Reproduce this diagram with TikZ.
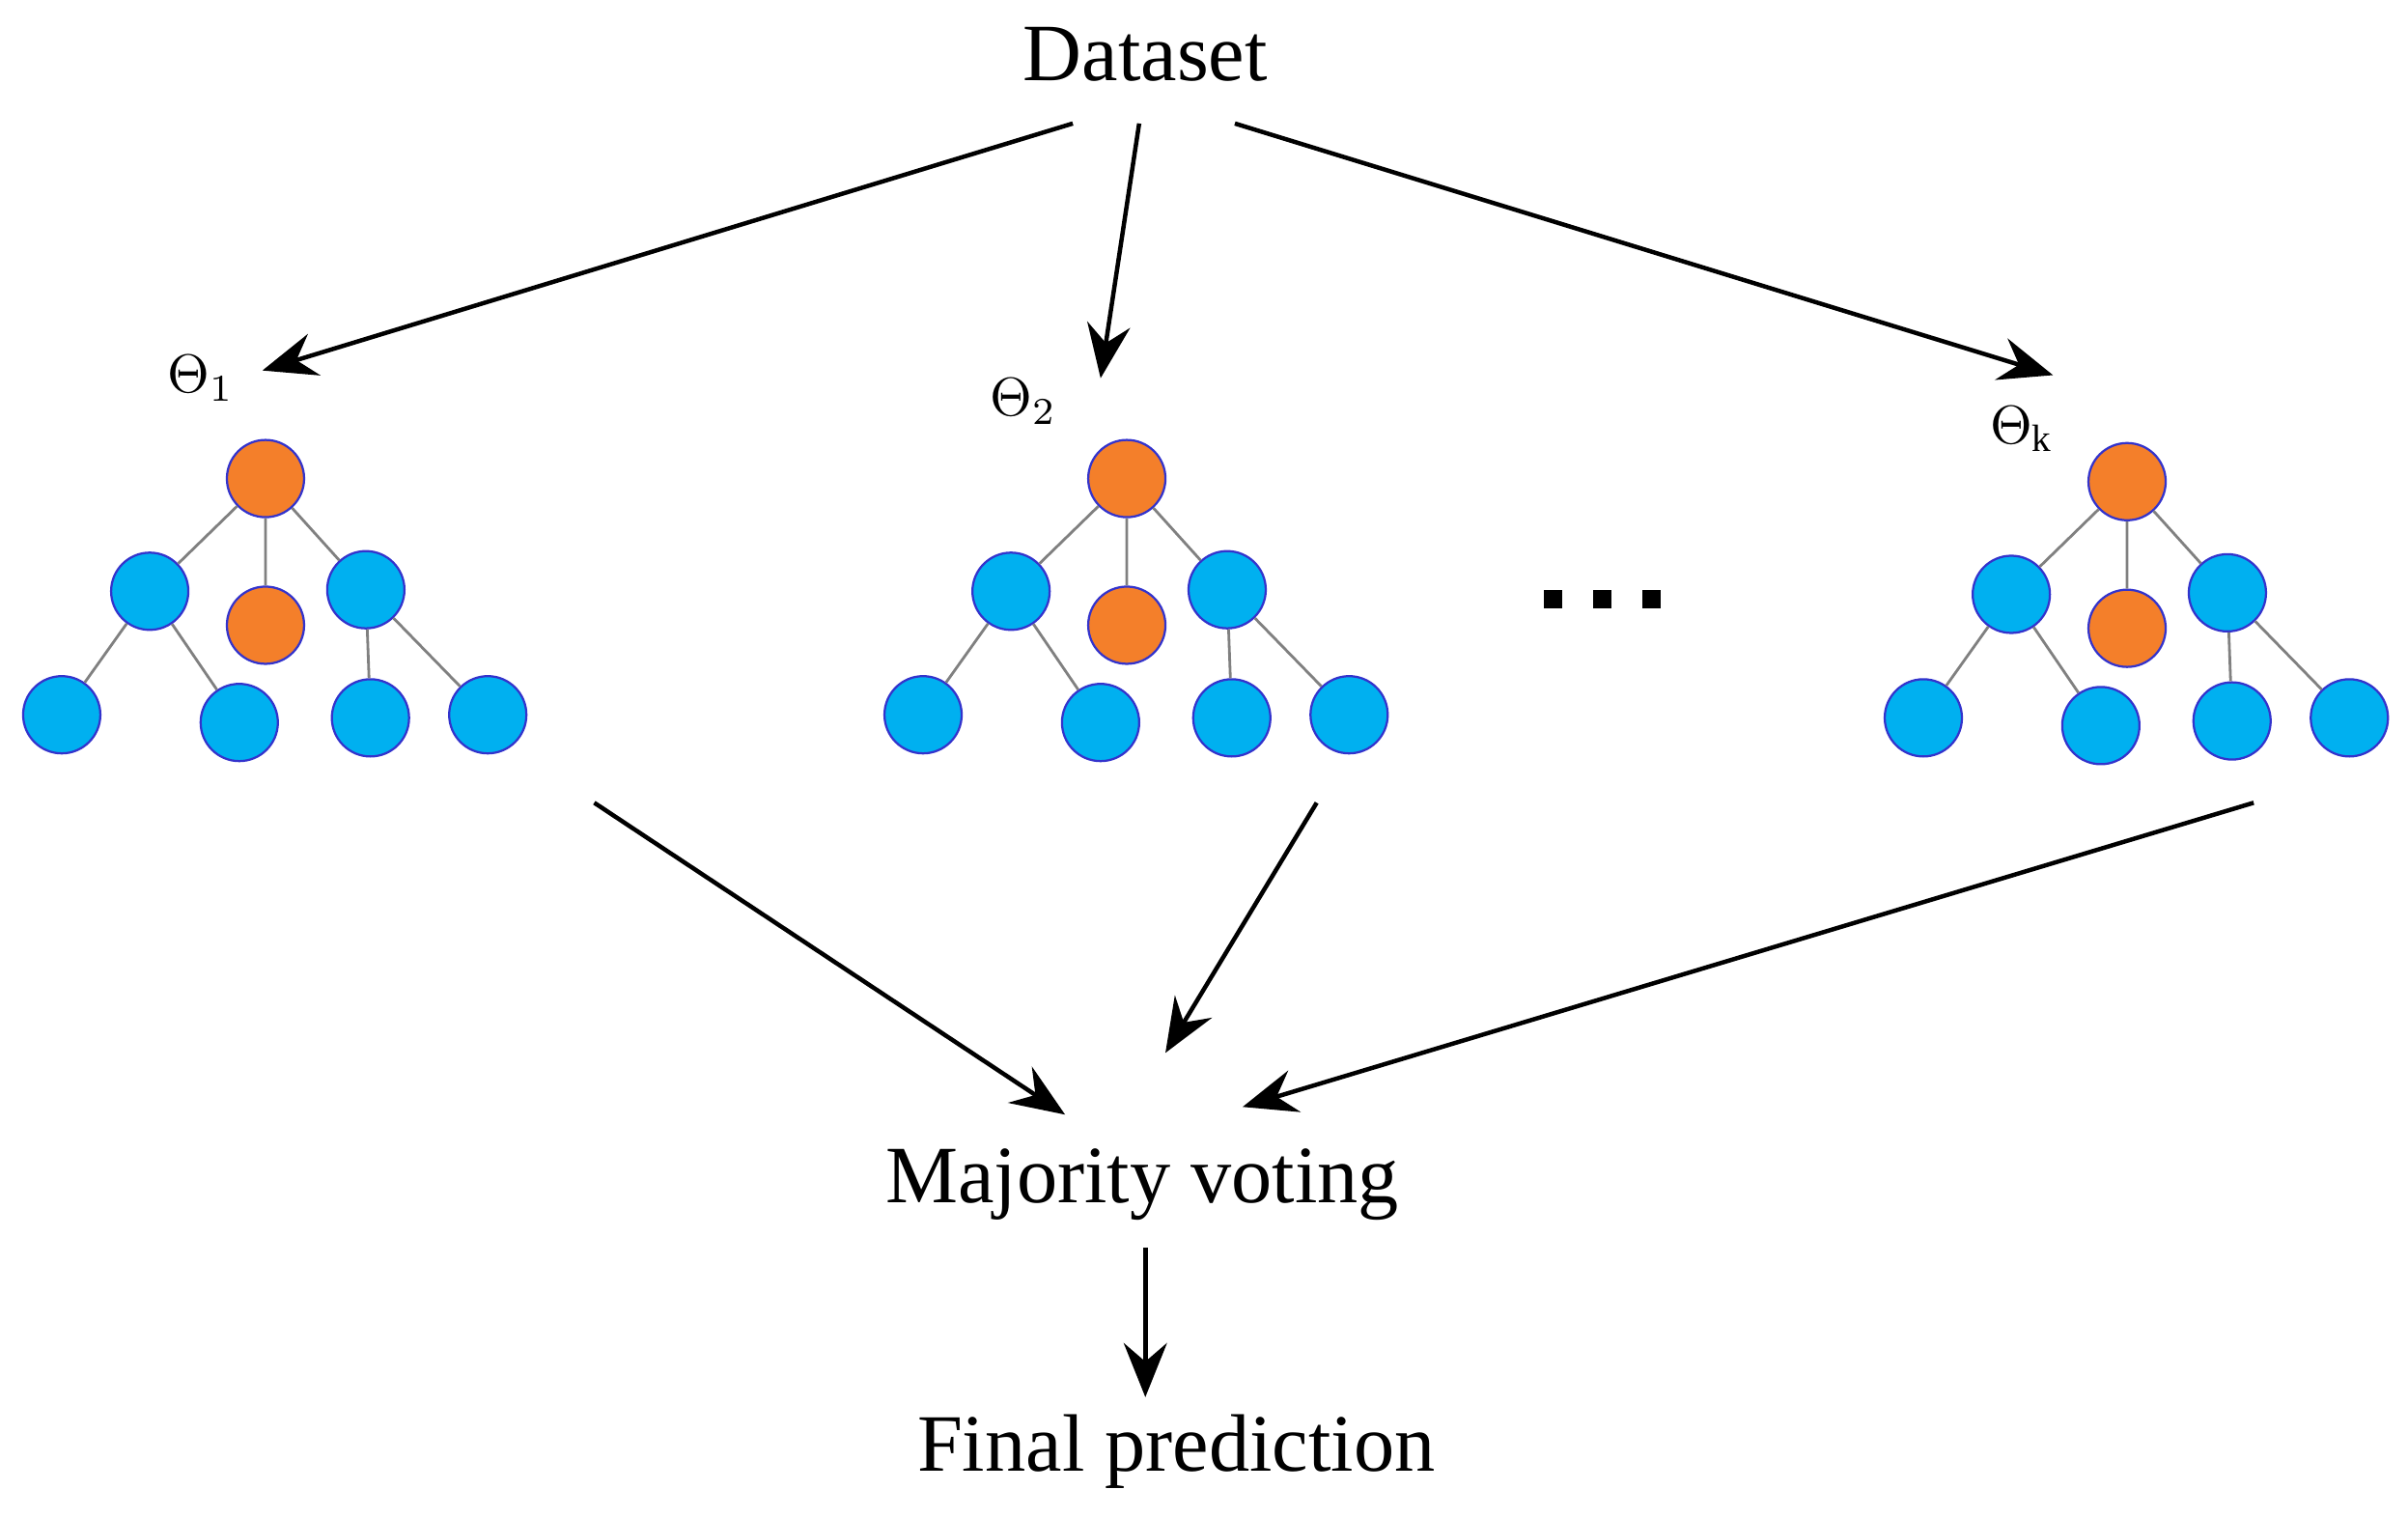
\documentclass[tikz,border=0pt]{standalone}
\usepackage{fontspec}
\setmainfont{Liberation Serif}
\usetikzlibrary{arrows.meta}
\definecolor{org}{HTML}{F47F2A}
\definecolor{blu}{HTML}{00B0F0}
\begin{document}
\begin{tikzpicture}[x=0.01cm,y=-0.01cm,
  lab/.style={font=\fontsize{15}{18}\selectfont},
  th/.style={font=\fontsize{10}{12}\selectfont},
  o/.style={circle,draw=blue!60!gray,line width=0.4pt,fill=org,minimum size=0.5cm,inner sep=0},
  b/.style={circle,draw=blue!60!gray,line width=0.4pt,fill=blu,minimum size=0.5cm,inner sep=0},
  e/.style={draw=gray,line width=0.5pt},
  ar/.style={-{Stealth[length=0.35cm,width=0.28cm,inset=0.12cm]},line width=0.8pt}]
\useasboundingbox (0,0) rectangle (1560,983);
\node[lab] (ds) at (742,35) {Dataset};
\node[th] (t1) at (130,245) {$\Theta_1$};
\node[th] (t2) at (663,260) {$\Theta_2$};
\node[th] (tk) at (1310,278) {$\Theta_\mathrm{k}$};
\foreach \i/\dx/\dy in {1/0/0,2/558/0,3/1206/2}{
 \begin{scope}[shift={(\dx,\dy)}]
 \node[o] (r\i) at (172,310) {};
 \node[b] (a\i) at (97,383) {};
 \node[o] (m\i) at (172,405) {};
 \node[b] (c\i) at (237,382) {};
 \node[b] (l\i) at (40,463) {};
 \node[b] (p\i) at (155,468) {};
 \node[b] (q\i) at (240,465) {};
 \node[b] (s\i) at (316,463) {};
 \end{scope}
 \begin{scope}[on background layer/.style={}]
 \draw[e] (r\i)--(a\i) (r\i)--(m\i) (r\i)--(c\i) (a\i)--(l\i) (a\i)--(p\i) (c\i)--(q\i) (c\i)--(s\i);
 \end{scope}
}
\foreach \x in {1006,1038,1070}{\fill (\x-6,382) rectangle (\x+6,394);}
\coordinate (d1) at (695,80); \coordinate (e1) at (170,240);
\coordinate (d2) at (738,80); \coordinate (e2) at (713,245);
\coordinate (d3) at (800,80); \coordinate (e3) at (1330,243);
\draw[ar] (d1)--(e1); \draw[ar] (d2)--(e2); \draw[ar] (d3)--(e3);
\node[lab] (mv) at (740,767) {Majority voting};
\node[lab] (fp) at (762,940) {Final prediction};
\coordinate (f1) at (385,520); \coordinate (g1) at (690,722);
\coordinate (f2) at (853,520); \coordinate (g2) at (755,682);
\coordinate (f3) at (1460,520); \coordinate (g3) at (805,717);
\draw[ar] (f1)--(g1); \draw[ar] (f2)--(g2); \draw[ar] (f3)--(g3);
\coordinate (h1) at (742,808); \coordinate (h2) at (742,905);
\draw[ar] (h1)--(h2);
\end{tikzpicture}
\end{document}
